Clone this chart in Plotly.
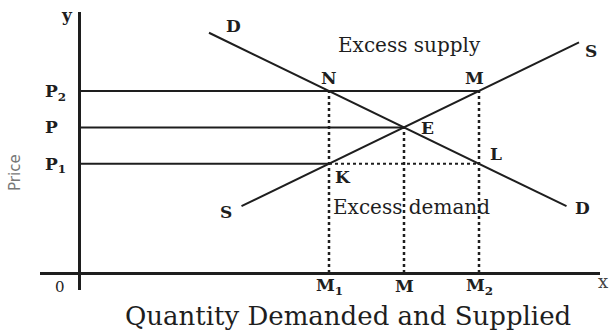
import plotly.graph_objects as go

# quantities on the x axis and prices on the y axis
q_labels = ["M<sub>1</sub>", "M", "M<sub>2</sub>"]
q_values = [10, 13, 16]
p_labels = ["P<sub>1</sub>", "P", "P<sub>2</sub>"]
p_values = [6, 8, 10]

# demand and supply curves (end points)
demand_q = [5.2, 19.5]
demand_p = [13.2, 3.67]
supply_q = [6.5, 20.0]
supply_p = [3.67, 12.67]

ink = "#1e1e1e"
serif = "DejaVu Serif"

fig = go.Figure()

m1, m, m2 = q_values
p1, p, p2 = p_values

# solid price lines from the axis
fig.add_trace(go.Scatter(x=[0, m2], y=[p2, p2], mode="lines", line=dict(color=ink, width=2)))
fig.add_trace(go.Scatter(x=[0, m], y=[p, p], mode="lines", line=dict(color=ink, width=2)))
fig.add_trace(go.Scatter(x=[0, m1], y=[p1, p1], mode="lines", line=dict(color=ink, width=2)))

# dashed K-L line and dotted verticals
fig.add_trace(go.Scatter(x=[m1, m2], y=[p1, p1], mode="lines", line=dict(color=ink, width=2, dash="dot")))
fig.add_trace(go.Scatter(x=[m1, m1], y=[0, p2], mode="lines", line=dict(color=ink, width=2.5, dash="dot")))
fig.add_trace(go.Scatter(x=[m, m], y=[0, p], mode="lines", line=dict(color=ink, width=2.5, dash="dot")))
fig.add_trace(go.Scatter(x=[m2, m2], y=[0, p2], mode="lines", line=dict(color=ink, width=2.5, dash="dot")))

# curves
fig.add_trace(go.Scatter(x=demand_q, y=demand_p, mode="lines", line=dict(color=ink, width=2)))
fig.add_trace(go.Scatter(x=supply_q, y=supply_p, mode="lines", line=dict(color=ink, width=2)))

lbl = dict(family=serif, size=17, color=ink, weight="bold")
txt = dict(family=serif, size=20, color=ink)

annotations = [
    dict(x=demand_q[0], y=demand_p[0], text="D", xshift=24, yshift=7, font=lbl),
    dict(x=demand_q[1], y=demand_p[1], text="D", xshift=16, yshift=-2, font=lbl),
    dict(x=supply_q[1], y=supply_p[1], text="S", xshift=12, yshift=-9, font=lbl),
    dict(x=supply_q[0], y=supply_p[0], text="S", xshift=-16, yshift=-6, font=lbl),
    dict(x=m1, y=p2, text="N", yshift=13, font=lbl),
    dict(x=m2, y=p2, text="M", xshift=-5, yshift=13, font=lbl),
    dict(x=m, y=p, text="E", xshift=23, yshift=-1, font=lbl),
    dict(x=m2, y=p1, text="L", xshift=17, yshift=10, font=lbl),
    dict(x=m1, y=p1, text="K", xshift=14, yshift=-13, font=lbl),
    dict(x=13.2, y=12.5, text="Excess supply", font=txt),
    dict(x=13.3, y=3.6, text="Excess demand", font=txt),
    dict(x=-0.48, y=14.18, text="y", font=lbl),
    dict(x=-0.76, y=-0.77, text="0", font=dict(family=serif, size=15, color=ink)),
]
# quantity labels just under the x axis
for qv, ql in zip(q_values, q_labels):
    annotations.append(dict(x=qv, y=0, text=ql, yshift=-13, font=lbl))
for a in annotations:
    a.update(xref="x", yref="y", showarrow=False)

# texts outside the axis ranges go on paper coordinates
paper_notes = [
    dict(x=1.005, y=0.029, text="x", font=dict(family=serif, size=18, color="#444")),
    dict(x=-0.045, y=0.424, text="Price", textangle=-90,
         font=dict(family="DejaVu Sans", size=15, color="#777")),
    dict(x=0.55, y=-0.095, text="Quantity Demanded and Supplied",
         font=dict(family=serif, size=26, color=ink)),
]
for a in paper_notes:
    a.update(xref="paper", yref="paper", showarrow=False, xanchor="center", yanchor="middle")
annotations += paper_notes

fig.update_layout(
    width=610, height=333,
    margin=dict(l=40, r=10, t=12, b=43),
    paper_bgcolor="white", plot_bgcolor="white",
    showlegend=False,
    annotations=annotations,
)
fig.update_xaxes(range=[-1.56, 20.84], showgrid=False, showline=False, automargin=False,
                 zeroline=True, zerolinecolor=ink, zerolinewidth=2.5,
                 showticklabels=False, ticks="")
fig.update_yaxes(range=[-0.934, 14.34], showgrid=False, showline=False, automargin=False,
                 zeroline=True, zerolinecolor=ink, zerolinewidth=2.5,
                 tickvals=p_values, ticktext=p_labels, ticks="",
                 ticklabelposition="inside", ticklabelstandoff=2,
                 tickfont=dict(family=serif, size=17, color=ink, weight="bold"))

# the page's default body margin would push the 610x333 figure off the window
fig.write_html("out.html", config={"displayModeBar": False},
               post_script="document.body.style.margin = '0';")
